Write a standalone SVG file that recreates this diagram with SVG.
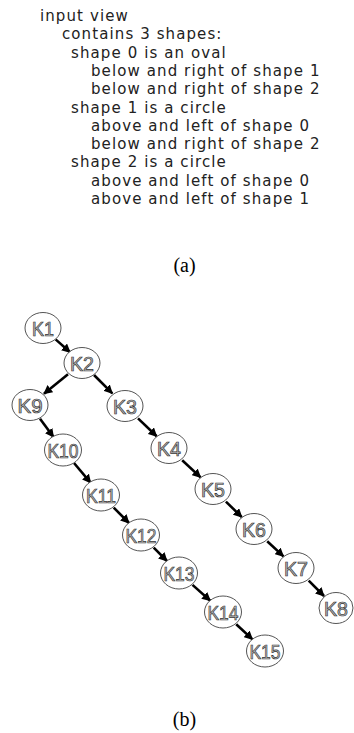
<svg xmlns="http://www.w3.org/2000/svg" width="354" height="733" viewBox="0 0 354 733">
<defs>
<marker id="ah" viewBox="0 0 10 10" refX="9" refY="5" markerWidth="9" markerHeight="9" markerUnits="userSpaceOnUse" orient="auto">
<path d="M0,0 L10,5 L0,10 z" fill="#000"/>
</marker>
<style>
.t{font-family:"DejaVu Sans",sans-serif;font-size:15px;letter-spacing:1.1px;fill:#222}
.cap{font-family:"Liberation Serif",serif;font-size:20px;fill:#000;text-anchor:middle}
.n ellipse{fill:#fff;stroke:#555;stroke-width:1}
.n text{font-family:"Liberation Sans",sans-serif;font-size:21px;fill:#bbb;stroke:#333;stroke-width:0.7;text-anchor:middle}
.e line{stroke:#000;stroke-width:2.6;marker-end:url(#ah)}
</style>
</defs>
<rect width="354" height="733" fill="#fff"/>
<g id="text-a">
<text class="t" x="40" y="21">input view</text>
<text class="t" x="62" y="39.3">contains 3 shapes:</text>
<text class="t" x="71" y="57.6">shape 0 is an oval</text>
<text class="t" x="91" y="75.9">below and right of shape 1</text>
<text class="t" x="91" y="94.2">below and right of shape 2</text>
<text class="t" x="71" y="112.5">shape 1 is a circle</text>
<text class="t" x="91" y="130.8">above and left of shape 0</text>
<text class="t" x="91" y="149.1">below and right of shape 2</text>
<text class="t" x="71" y="167.4">shape 2 is a circle</text>
<text class="t" x="91" y="185.7">above and left of shape 0</text>
<text class="t" x="91" y="204">above and left of shape 1</text>
</g>
<text class="cap" x="184.5" y="272">(a)</text>
<text class="cap" x="184.5" y="726">(b)</text>
<g id="connectors" class="e">
<line x1="55.6" y1="339.4" x2="70.1" y2="352.3"/>
<line x1="94" y1="375" x2="112.3" y2="393.3"/>
<line x1="68" y1="374.3" x2="44" y2="393.7"/>
<line x1="138" y1="418.4" x2="156.7" y2="436.3"/>
<line x1="182.2" y1="460.3" x2="200.6" y2="477.4"/>
<line x1="225.9" y1="501.6" x2="241.8" y2="517.1"/>
<line x1="267.2" y1="541.3" x2="283.5" y2="556.4"/>
<line x1="308.7" y1="580.7" x2="324" y2="596"/>
<line x1="40" y1="418.7" x2="53.5" y2="437.1"/>
<line x1="74" y1="463" x2="90.7" y2="482.8"/>
<line x1="113.7" y1="507.7" x2="129" y2="523"/>
<line x1="153.7" y1="547.7" x2="167" y2="561"/>
<line x1="192.5" y1="584.9" x2="210.3" y2="600.7"/>
<line x1="236.2" y1="624.3" x2="252.5" y2="639.4"/>
</g>
<g id="K1" class="n"><ellipse cx="43" cy="328" rx="18" ry="15.5"/><text x="43" y="335.5" textLength="22" lengthAdjust="spacingAndGlyphs">K1</text></g>
<g id="K2" class="n"><ellipse cx="82" cy="363" rx="18" ry="15.5"/><text x="82" y="370.5" textLength="24" lengthAdjust="spacingAndGlyphs">K2</text></g>
<g id="K3" class="n"><ellipse cx="125" cy="406" rx="18" ry="15.5"/><text x="125" y="413.5" textLength="24" lengthAdjust="spacingAndGlyphs">K3</text></g>
<g id="K4" class="n"><ellipse cx="169" cy="448" rx="18" ry="15.5"/><text x="169" y="455.5" textLength="24" lengthAdjust="spacingAndGlyphs">K4</text></g>
<g id="K5" class="n"><ellipse cx="213" cy="489" rx="18" ry="15.5"/><text x="213" y="496.5" textLength="24" lengthAdjust="spacingAndGlyphs">K5</text></g>
<g id="K6" class="n"><ellipse cx="254" cy="529" rx="18" ry="15.5"/><text x="254" y="536.5" textLength="24" lengthAdjust="spacingAndGlyphs">K6</text></g>
<g id="K7" class="n"><ellipse cx="296" cy="568" rx="18" ry="15.5"/><text x="296" y="575.5" textLength="24" lengthAdjust="spacingAndGlyphs">K7</text></g>
<g id="K8" class="n"><ellipse cx="336" cy="608" rx="17" ry="15.5"/><text x="336" y="615.5" textLength="24" lengthAdjust="spacingAndGlyphs">K8</text></g>
<g id="K9" class="n"><ellipse cx="30" cy="405" rx="18" ry="15.5"/><text x="30" y="412.5" textLength="25" lengthAdjust="spacingAndGlyphs">K9</text></g>
<g id="K10" class="n"><ellipse cx="63" cy="450" rx="18.5" ry="16"/><text x="63" y="457.5" textLength="31" lengthAdjust="spacingAndGlyphs">K10</text></g>
<g id="K11" class="n"><ellipse cx="101" cy="495" rx="18.5" ry="16"/><text x="101" y="502.5" textLength="30" lengthAdjust="spacingAndGlyphs">K11</text></g>
<g id="K12" class="n"><ellipse cx="141" cy="535" rx="18.5" ry="16"/><text x="141" y="542.5" textLength="31" lengthAdjust="spacingAndGlyphs">K12</text></g>
<g id="K13" class="n"><ellipse cx="179" cy="573" rx="18.5" ry="16"/><text x="179" y="580.5" textLength="31" lengthAdjust="spacingAndGlyphs">K13</text></g>
<g id="K14" class="n"><ellipse cx="223" cy="612" rx="18.5" ry="16"/><text x="223" y="619.5" textLength="31" lengthAdjust="spacingAndGlyphs">K14</text></g>
<g id="K15" class="n"><ellipse cx="265" cy="651" rx="18.5" ry="16"/><text x="265" y="658.5" textLength="31" lengthAdjust="spacingAndGlyphs">K15</text></g>
</svg>
